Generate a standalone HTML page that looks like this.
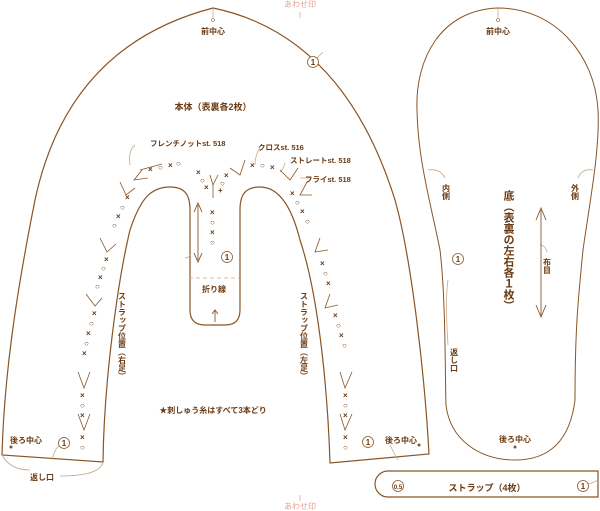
<!DOCTYPE html>
<html><head><meta charset="utf-8"><style>
html,body{margin:0;padding:0;background:#fff}
svg{display:block}
text{font-family:"Liberation Sans","Noto Sans CJK JP",sans-serif;fill:#6b3a12;font-weight:bold}
.s{font-size:8px}
.m{font-size:9px}
.st{font-size:8px;font-weight:bold;fill:#6b3a12}
</style></head><body>
<svg width="600" height="511" viewBox="0 0 600 511" xmlns="http://www.w3.org/2000/svg">
<g fill="none" stroke="#8a5525" stroke-width="1.2">
<path d="M2,455 C4,380 15,300 35,200 C50,130 90,40 213,8 C320,30 370,120 395,200 C412,260 425,380 429,454 L330,463 C328,400 320,300 300,240 C290,200 275,187 260,187 C245,187 240,195 240,210 L240,310 Q240,325 225,325 L205,325 Q190,325 190,310 L190,210 C190,195 185,187 170,187 C150,187 140,200 130,230 C118,280 104,380 103,462 Z"/>
<path d="M498,8 C440,10 415,60 417,110 C418,160 430,200 440,250 C446,300 445,380 446,405 C450,440 480,460 515,460 C550,460 570,440 575,400 C575,330 578,300 583,250 C590,200 600,150 598,110 C595,55 555,8 498,8 Z" stroke-width="1"/>
<path d="M388,471 L598,471 L598,497 L388,497 A13,13 0 0 1 388,471 Z"/>
</g>
<g fill="none" stroke="#c8a888" stroke-width="0.8">
<line x1="189" y1="278" x2="239" y2="278" stroke-dasharray="4,3"/>
<line x1="213" y1="8" x2="213" y2="18"/>
<line x1="498" y1="8" x2="498" y2="18"/>
<line x1="300" y1="12" x2="300" y2="18" stroke="#e8a898"/>
<line x1="300" y1="495" x2="300" y2="501" stroke="#e8a898"/>
<path d="M2,455 Q10,470 30,470 M60,476 Q100,476 103,462"/>
<path d="M185,258 Q189,258 190,255"/>
<path d="M313,62 Q320,55 323,52"/>
<path d="M448,280 Q445,300 448,345"/>
<path d="M428,170 Q440,168 445,178"/>
<path d="M593,170 Q582,168 578,178"/>
<path d="M540,245 Q545,245 547,252"/>
<path d="M52,460 Q55,448 60,445"/>
<path d="M390,445 Q395,455 398,460"/>
<path d="M580,485 Q590,485 598,480"/>
<path d="M135,145 Q128,150 130,165"/>
<path d="M260,148 Q255,155 255,165"/>
<path d="M285,163 Q283,170 280,172"/>
<path d="M310,178 L300,178"/>
</g>
<g stroke="#8a5525" stroke-width="0.9" fill="none">
<line x1="198" y1="205" x2="198" y2="260"/><path d="M194,212 L198,203 L202,212 M194,253 L198,262 L202,253"/>
<line x1="541" y1="210" x2="541" y2="315"/><path d="M536,220 L541,208 L546,220 M536,305 L541,317 L546,305"/>
<line x1="215" y1="310" x2="215" y2="322"/><path d="M212,314 L215,310 L218,314"/>
</g>
<g stroke="#8a5525" stroke-width="0.8" fill="none">
<path d="M142,170 L134,180 L148,178 M162,164 L140,170"/>
<path d="M120,182 L126,195 L135,188"/>
<path d="M100,238 L107,252 L116,244"/>
<path d="M86,294 L95,306 L102,298"/>
<path d="M78,372 L84,388 L90,372"/>
<path d="M78,414 L84,430 L90,414"/>
<path d="M230,168 L240,175 L245,160"/>
<path d="M210,175 L213,185 L218,175 M213,185 L213,198"/>
<path d="M280,170 L290,180 L298,168"/>
<path d="M307,182 L300,195 L312,195"/>
<path d="M320,238 L315,252 L328,250"/>
<path d="M330,294 L325,308 L338,305"/>
<path d="M340,372 L345,388 L352,372"/>
<path d="M340,414 L345,430 L352,414"/>
</g>
<g class="st">
<text x="148" y="172">×</text><text x="158" y="170">○</text><text x="168" y="168">×</text><text x="176" y="166">○</text>
<text x="125" y="200">×</text><text x="120" y="210">○</text><text x="116" y="219">×</text><text x="112" y="228">○</text>
<text x="104" y="262">×</text><text x="101" y="271">○</text><text x="98" y="280">×</text><text x="95" y="289">○</text>
<text x="92" y="316">×</text><text x="89" y="326">○</text><text x="86" y="336">×</text><text x="84" y="346">○</text><text x="82" y="356">×</text>
<text x="80" y="398">×</text><text x="80" y="408">○</text><text x="80" y="418">×</text>
<text x="80" y="440">×</text><text x="80" y="450">○</text>
<text x="196" y="175">×</text><text x="200" y="183">○</text><text x="204" y="190">×</text>
<text x="224" y="178">×</text><text x="220" y="186">○</text><text x="218" y="193">+</text>
<text x="210" y="215">×</text><text x="210" y="225">○</text><text x="210" y="235">×</text><text x="210" y="245">○</text>
<text x="250" y="168">×</text><text x="260" y="168">○</text><text x="270" y="170">×</text>
<text x="290" y="196">×</text><text x="295" y="205">○</text><text x="300" y="214">×</text><text x="305" y="224">○</text>
<text x="320" y="266">×</text><text x="323" y="276">○</text><text x="326" y="286">×</text>
<text x="333" y="318">×</text><text x="336" y="328">○</text><text x="339" y="338">×</text><text x="342" y="348">○</text>
<text x="343" y="398">×</text><text x="343" y="408">○</text><text x="343" y="418">×</text>
<text x="343" y="440">×</text><text x="343" y="450">○</text>
</g>
<g>
<text x="213" y="34" class="s" text-anchor="middle">前中心</text>
<text x="498" y="34" class="s" text-anchor="middle">前中心</text>
<text x="300" y="7" class="s" text-anchor="middle" style="fill:#e8a090;font-weight:normal">あわせ印</text>
<text x="300" y="509" class="s" text-anchor="middle" style="fill:#e8a090;font-weight:normal">あわせ印</text>
<text x="213" y="110" class="m" text-anchor="middle">本体（表裏各2枚）</text>
<text x="150" y="146" class="s" style="font-size:7.5px">フレンチノットst. 518</text>
<text x="258" y="150" class="s" style="font-size:7.5px">クロスst. 516</text>
<text x="290" y="163" class="s" style="font-size:7.5px">ストレートst. 518</text>
<text x="305" y="182" class="s" style="font-size:7.5px">フライst. 518</text>
<text x="214" y="292" class="s" text-anchor="middle">折り線</text>
<text x="213" y="413" class="s" text-anchor="middle">★刺しゅう糸はすべて3本どり</text>
<text x="10" y="443" class="s">後ろ中心</text>
<text x="385" y="443" class="s">後ろ中心</text>
<text x="515" y="442" class="s" text-anchor="middle">後ろ中心</text>
<text x="30" y="480" class="s">返し口</text>
<text x="487" y="491" class="m" text-anchor="middle">ストラップ（4枚）</text>
<text x="122" y="292" class="s" writing-mode="tb">ストラップ位置（右足）</text>
<text x="304" y="292" class="s" writing-mode="tb">ストラップ位置（左足）</text>
<text x="446" y="184" class="s" writing-mode="tb">内側</text>
<text x="575" y="184" class="s" writing-mode="tb">外側</text>
<text x="547" y="258" class="s" writing-mode="tb">布目</text>
<text x="454" y="348" class="s" writing-mode="tb">返し口</text>
<text x="508" y="190" class="m" writing-mode="tb" style="font-size:11px">底（表裏の左右各１枚）</text>
</g>
<g fill="#fff" stroke="#8a5525" stroke-width="0.8">
<circle cx="313" cy="62" r="5.5"/><circle cx="227" cy="257" r="5.5"/><circle cx="64" cy="443" r="5.5"/>
<circle cx="368" cy="442" r="5.5"/><circle cx="458" cy="259" r="5.5"/><circle cx="583" cy="486" r="5.5"/>
<circle cx="398" cy="486" r="5.5"/>
</g>
<g style="font-size:8px" text-anchor="middle">
<text x="313" y="65">1</text><text x="227" y="260">1</text><text x="64" y="446">1</text>
<text x="368" y="445">1</text><text x="458" y="262">1</text><text x="583" y="489">1</text>
<text x="398" y="489" style="font-size:6px">0.5</text>
</g>
<g fill="#8a5525"><circle cx="11" cy="447" r="1.5"/><circle cx="419" cy="445" r="1.5"/><circle cx="515" cy="447" r="1.5"/></g>
<g fill="#fff" stroke="#8a5525" stroke-width="0.6"><circle cx="213" cy="20" r="1.5"/><circle cx="498" cy="20" r="1.5"/></g>
</svg>
</body></html>
